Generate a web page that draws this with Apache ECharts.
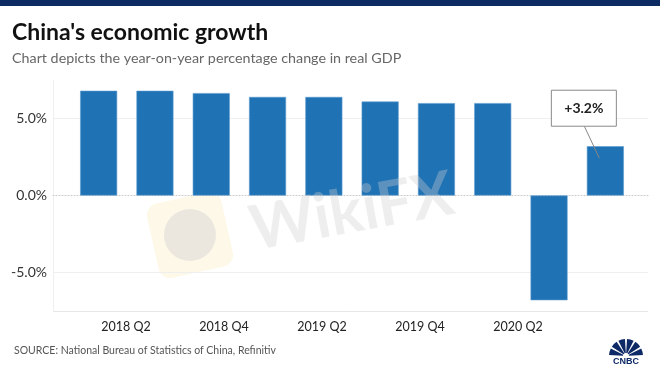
<!DOCTYPE html>
<html>
<head>
<meta charset="utf-8">
<script src="https://cdn.jsdelivr.net/npm/echarts@6/dist/echarts.min.js"></script>
<style>html,body{margin:0;padding:0;background:#fff}#c{width:660px;height:371px}</style>
</head>
<body>
<div id="c"></div>
<script>
// ---- data ----
var quarters = ['2018 Q1','2018 Q2','2018 Q3','2018 Q4','2019 Q1','2019 Q2','2019 Q3','2019 Q4','2020 Q1','2020 Q2'];
var gdpGrowth = [6.8, 6.8, 6.65, 6.4, 6.4, 6.1, 6.0, 6.0, -6.8, 3.2];
var tickLabels = ['2018 Q2','2018 Q4','2019 Q2','2019 Q4','2020 Q2'];
var calloutIndex = 9;
var titleText = "China's economic growth";
var subtitleText = 'Chart depicts the year-on-year percentage change in real GDP';
var sourceText = 'SOURCE: National Bureau of Statistics of China, Refinitiv';

var FONT = 'Lato, "Open Sans", sans-serif';
var chart = echarts.init(document.getElementById('c'), null, {renderer: 'canvas'});

var option = {
  backgroundColor: '#fff',
  animation: false,
  textStyle: {fontFamily: FONT},
  grid: [
    {left: 53, right: 12, top: 80, bottom: 60},
    {left: 70.5, width: 563, top: 80, bottom: 60},
    {left: 77, width: 490, top: 80, bottom: 60}
  ],
  xAxis: [
    {gridIndex: 0, type: 'category', data: quarters, boundaryGap: true,
     axisLabel: {show: false}, axisTick: {show: false},
     axisLine: {show: true, onZero: true, lineStyle: {color: '#c8c8c8', type: [1, 2], width: 1}}},
    {gridIndex: 1, type: 'category', data: quarters, boundaryGap: true,
     axisLabel: {show: false}, axisTick: {show: false}, axisLine: {show: false}},
    {gridIndex: 2, type: 'category', data: tickLabels, boundaryGap: true, position: 'bottom',
     axisTick: {show: false}, axisLine: {show: false},
     axisLabel: {show: true, interval: 0, margin: 9, fontSize: 12.5, color: '#222', fontFamily: FONT}}
  ],
  yAxis: [
    {gridIndex: 0, type: 'value', min: -7.5, max: 7.5, interval: 2.5,
     axisLine: {show: true, lineStyle: {color: '#f0f0f0'}}, axisTick: {show: false},
     axisLabel: {margin: 6, fontSize: 14, color: '#333', fontFamily: FONT,
       formatter: function (v) { return (Math.abs(v % 5) < 1e-9) ? v.toFixed(1) + '%' : ''; }},
     splitLine: {show: true, showMinLine: true, showMaxLine: true,
       lineStyle: {width: 1, color: ['#e6e6e6', '#efefef', 'rgba(0,0,0,0)', 'rgba(0,0,0,0)', 'rgba(0,0,0,0)', '#efefef', 'rgba(0,0,0,0)']}}},
    {gridIndex: 1, type: 'value', min: -7.5, max: 7.5, interval: 2.5,
     axisLine: {show: false}, axisTick: {show: false}, axisLabel: {show: false}, splitLine: {show: false}},
    {gridIndex: 2, type: 'value', min: -7.5, max: 7.5, interval: 2.5, show: false}
  ],
  series: [{
    type: 'bar', xAxisIndex: 1, yAxisIndex: 1,
    data: gdpGrowth, barWidth: 37,
    itemStyle: {color: '#1f72b3', borderColor: '#5b9bd0', borderWidth: 0.6}
  }],
  graphic: [
    {type: 'rect', left: 0, top: 0, shape: {width: 660, height: 6}, style: {fill: '#0c2b62'}},
    {type: 'text', left: 12, top: 21, style: {text: titleText, font: 'bold 23px ' + FONT, fill: '#111'}},
    {type: 'text', left: 12, top: 51, style: {text: subtitleText, font: '14.3px ' + FONT, fill: '#666'}},
    {type: 'text', left: 14, top: 345, style: {text: sourceText, font: '10.5px ' + FONT, fill: '#555'}}
  ]
};
chart.setOption(option);

// watermark (faint) + CNBC mark + callout, placed using the chart's own scales
var anchor = chart.convertToPixel({seriesIndex: 0}, [calloutIndex, gdpGrowth[calloutIndex]]);
var label = (gdpGrowth[calloutIndex] > 0 ? '+' : '') + gdpGrowth[calloutIndex].toFixed(1) + '%';
var bx = anchor[0] - 54, by = anchor[1] - 56;
var extra = [
  {type: 'group', x: 190, y: 235, rotation: 0.22, z: 50, silent: true, children: [
    {type: 'rect', shape: {x: -38, y: -38, width: 76, height: 76, r: 12}, style: {fill: 'rgba(250,236,190,0.35)'}},
    {type: 'circle', shape: {cx: 0, cy: 0, r: 26}, style: {fill: 'rgba(200,200,205,0.35)'}}
  ]},
  {type: 'text', x: 245, y: 200, rotation: 0.18, z: 50, silent: true,
   style: {text: 'WikiFX', font: 'bold 62px ' + FONT, fill: 'rgba(205,205,210,0.35)'}},
  {type: 'line', z: 60, shape: {x1: bx + 33, y1: by + 36, x2: anchor[0] - 6, y2: anchor[1] + 12},
   style: {stroke: '#888', lineWidth: 1}},
  {type: 'rect', z: 60, shape: {x: bx, y: by, width: 65, height: 36}, style: {fill: '#fff', stroke: '#8a8a8a', lineWidth: 1}},
  {type: 'text', z: 61, x: bx + 32.5, y: by + 18,
   style: {text: label, font: 'bold 14px ' + FONT, fill: '#222', align: 'center', verticalAlign: 'middle'}}
];
// CNBC peacock
var cx = 626, cy = 356, feathers = 6;
for (var i = 0; i < feathers; i++) {
  var a0 = Math.PI + i * Math.PI / feathers + 0.06;
  var a1 = Math.PI + (i + 1) * Math.PI / feathers - 0.06;
  extra.push({type: 'sector', z: 60, shape: {cx: cx, cy: cy, r0: 3, r: 17, startAngle: a0, endAngle: a1},
    style: {fill: '#0e2a66'}});
}
extra.push({type: 'text', z: 60, x: cx, y: 362, style: {text: 'CNBC', font: 'bold 9px Arial, sans-serif', fill: '#0e2a66', align: 'center', verticalAlign: 'middle'}});
chart.setOption({graphic: option.graphic.concat(extra)});
</script>
</body>
</html>
